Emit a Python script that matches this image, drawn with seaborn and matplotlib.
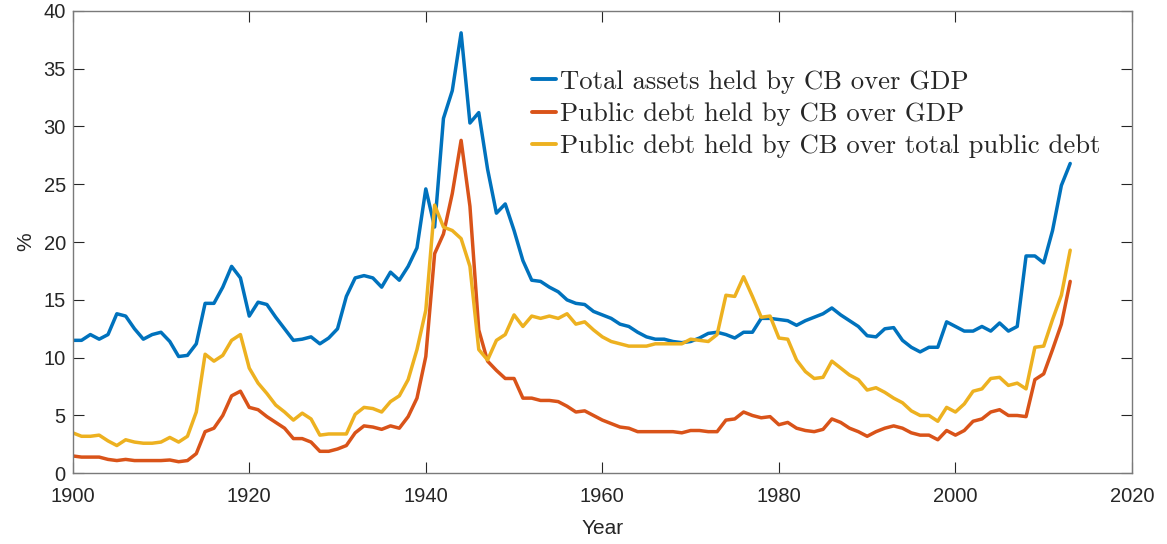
import numpy as np
import pandas as pd
import matplotlib
matplotlib.use("Agg")
import matplotlib.pyplot as plt
import seaborn as sns

years = list(range(1900, 2014))

total_assets = [
    11.5, 11.5, 12.0, 11.6, 12.0, 13.8, 13.6, 12.5, 11.6, 12.0,
    12.2, 11.4, 10.1, 10.2, 11.2, 14.7, 14.7, 16.1, 17.9, 16.9,
    13.6, 14.8, 14.6, 13.5, 12.5, 11.5, 11.6, 11.8, 11.2, 11.7,
    12.5, 15.3, 16.9, 17.1, 16.9, 16.1, 17.4, 16.7, 17.9, 19.5,
    24.6, 21.3, 30.7, 33.1, 38.1, 30.3, 31.2, 26.3, 22.5, 23.3,
    21.0, 18.4, 16.7, 16.6, 16.1, 15.7, 15.0, 14.7, 14.6, 14.0,
    13.7, 13.4, 12.9, 12.7, 12.2, 11.8, 11.6, 11.6, 11.4, 11.3,
    11.4, 11.7, 12.1, 12.2, 12.0, 11.7, 12.2, 12.2, 13.4, 13.4,
    13.3, 13.2, 12.8, 13.2, 13.5, 13.8, 14.3, 13.7, 13.2, 12.7,
    11.9, 11.8, 12.5, 12.6, 11.5, 10.9, 10.5, 10.9, 10.9, 13.1,
    12.7, 12.3, 12.3, 12.7, 12.3, 13.0, 12.3, 12.7, 18.8, 18.8,
    18.2, 21.0, 24.9, 26.8,
]

debt_over_gdp = [
    1.5, 1.4, 1.4, 1.4, 1.2, 1.1, 1.2, 1.1, 1.1, 1.1,
    1.1, 1.15, 1.0, 1.1, 1.7, 3.6, 3.9, 5.0, 6.7, 7.1,
    5.7, 5.5, 4.9, 4.4, 3.9, 3.0, 3.0, 2.7, 1.9, 1.9,
    2.1, 2.4, 3.5, 4.1, 4.0, 3.8, 4.1, 3.9, 4.9, 6.5,
    10.1, 19.0, 20.7, 24.2, 28.8, 23.1, 12.4, 9.7, 8.9, 8.2,
    8.2, 6.5, 6.5, 6.3, 6.3, 6.2, 5.8, 5.3, 5.4, 5.0,
    4.6, 4.3, 4.0, 3.9, 3.6, 3.6, 3.6, 3.6, 3.6, 3.5,
    3.7, 3.7, 3.6, 3.6, 4.6, 4.7, 5.3, 5.0, 4.8, 4.9,
    4.2, 4.4, 3.9, 3.7, 3.6, 3.8, 4.7, 4.4, 3.9, 3.6,
    3.2, 3.6, 3.9, 4.1, 3.9, 3.5, 3.3, 3.3, 2.9, 3.7,
    3.3, 3.7, 4.5, 4.7, 5.3, 5.5, 5.0, 5.0, 4.9, 8.1,
    8.6, 10.7, 12.9, 16.6,
]

debt_over_total_debt = [
    3.5, 3.2, 3.2, 3.3, 2.8, 2.4, 2.9, 2.7, 2.6, 2.6,
    2.7, 3.1, 2.7, 3.2, 5.3, 10.3, 9.7, 10.2, 11.5, 12.0,
    9.1, 7.8, 6.9, 5.9, 5.3, 4.6, 5.2, 4.7, 3.3, 3.4,
    3.4, 3.4, 5.1, 5.7, 5.6, 5.3, 6.2, 6.7, 8.1, 10.7,
    14.1, 23.2, 21.3, 21.0, 20.3, 17.9, 10.7, 9.8, 11.5, 12.0,
    13.7, 12.7, 13.6, 13.4, 13.6, 13.4, 13.8, 12.9, 13.1, 12.4,
    11.8, 11.4, 11.2, 11.0, 11.0, 11.0, 11.2, 11.2, 11.2, 11.2,
    11.6, 11.5, 11.4, 12.0, 15.4, 15.3, 17.0, 15.3, 13.5, 13.6,
    11.7, 11.6, 9.8, 8.8, 8.2, 8.3, 9.7, 9.1, 8.5, 8.1,
    7.2, 7.4, 7.0, 6.5, 6.1, 5.4, 5.0, 5.0, 4.5, 5.7,
    5.3, 6.0, 7.1, 7.3, 8.2, 8.3, 7.6, 7.8, 7.3, 10.9,
    11.0, 13.3, 15.4, 19.3,
]

labels = [
    "Total assets held by CB over GDP",
    "Public debt held by CB over GDP",
    "Public debt held by CB over total public debt",
]
colors = ["#0072BD", "#D95319", "#EDB120"]

df = pd.DataFrame({
    "Year": years * 3,
    "value": total_assets + debt_over_gdp + debt_over_total_debt,
    "series": [labels[0]] * len(years) + [labels[1]] * len(years) + [labels[2]] * len(years),
})

sns.set_style("ticks")
plt.rcParams["font.family"] = ["Liberation Sans", "DejaVu Sans"]
axis_col = "#262626"

fig = plt.figure(figsize=(11.67, 5.44), dpi=100)
ax = fig.add_axes([0.0623, 0.130, 0.9077, 0.850])

sns.lineplot(data=df, x="Year", y="value", hue="series", hue_order=labels,
             palette=colors, linewidth=2.5, ax=ax, legend=False)

ax.set_xlim(1900, 2020)
ax.set_ylim(0, 40)
ax.set_xticks(range(1900, 2021, 20))
ax.set_yticks(range(0, 41, 5))
ax.set_xlabel("Year", fontsize=15, color=axis_col, labelpad=9)
ax.set_ylabel("%", fontsize=15, color=axis_col, labelpad=6)
ax.tick_params(direction="in", length=8, width=0.8, top=True, right=True,
               labelsize=14.5, colors=axis_col)
ax.tick_params(axis="x", pad=10)
ax.tick_params(axis="y", pad=5)
for s in ax.spines.values():
    s.set_visible(True)
    s.set_color("#7a7a7a")
    s.set_linewidth(1.0)

handles = [plt.Line2D([], [], color=c, linewidth=2.8) for c in colors]
ax.legend(handles, labels, loc="upper left", bbox_to_anchor=(532 / 1167, 1 - 70 / 544),
          bbox_transform=fig.transFigure, frameon=False, borderpad=0,
          borderaxespad=0, handlelength=0.9, handletextpad=0.15,
          labelspacing=0.32, prop={"family": "cmr10", "size": 19.2})

fig.savefig("out.png", dpi=100)
